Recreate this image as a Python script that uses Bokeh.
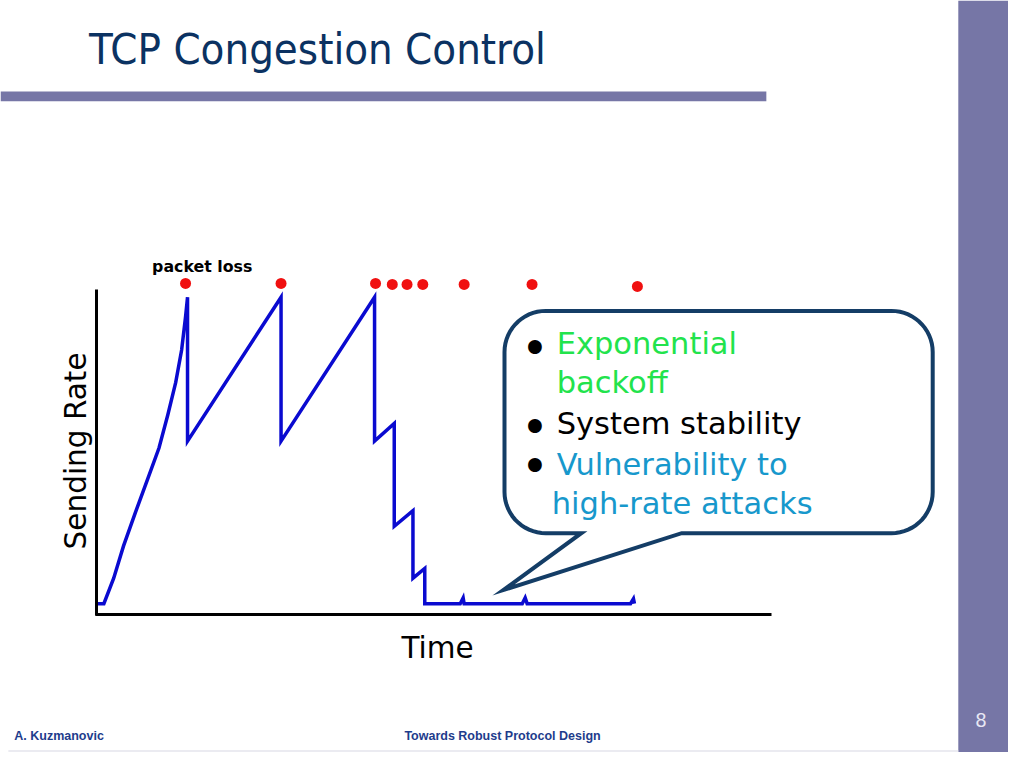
import numpy as np
from bokeh.plotting import figure
from bokeh.models import Range1d, LinearAxis, FixedTicker
from bokeh.core.properties import value
from bokeh.embed import file_html
from bokeh.resources import INLINE

# ---------------- data ----------------
title_text = "TCP Congestion Control"
x_label = "Time"
y_label = "Sending Rate"
loss_label = "packet loss"
footer_left = "A. Kuzmanovic"
footer_center = "Towards Robust Protocol Design"
page_number = "8"
callout_lines = ["Exponential", "backoff", "System stability",
                 "Vulnerability to", "high-rate attacks"]

# sending-rate curve (time, rate) in arbitrary units
time = [0.1, 0.7, 1.7, 2.7, 3.9, 5.1, 6.3, 7.2, 8.0, 8.6, 9.0, 9.2, 9.2,
        18.7, 18.7, 28.2, 28.2, 30.2, 30.2, 32.1, 32.1, 33.3, 33.3,
        36.9, 37.2, 37.3, 43.2, 43.5, 43.7, 54.2, 54.5, 54.6]
rate = [1.1, 1.1, 3.7, 7.0, 10.4, 13.7, 17.0, 20.4, 23.7, 27.0, 30.4, 32.4, 17.7,
        32.4, 17.7, 32.4, 17.7, 19.5, 9.0, 10.6, 3.7, 4.7, 1.1,
        1.1, 1.7, 1.1, 1.1, 1.7, 1.1, 1.1, 1.6, 1.1]

# packet loss events
loss_time = [9.0, 18.7, 28.3, 30.0, 31.5, 33.1, 37.3, 44.2, 54.9]
loss_rate = [33.8, 33.8, 33.8, 33.7, 33.7, 33.7, 33.7, 33.7, 33.5]

time_max = 68.5
rate_max = 33.2

# ---------------- styles ----------------
BAR = "#7676A6"
NAVY = "#0B3262"
BUBBLE = "#143D66"
GREEN = "#22E34C"
CYAN = "#1798CC"
CURVE = "#0A0AD0"
RED = "#F01010"

W, H = 1008, 752
K = W / 1024.0                 # slide (1024x768) to canvas scale


def fs(px):
    return "%.1fpx" % (px * K)


def mid(baseline, size):
    # vertical centre of a text line from its baseline
    return baseline - 0.37 * size


p = figure(width=W, height=H,
           x_range=Range1d(-9.8, 92.6), y_range=Range1d(-14.1, 62.7),
           output_backend="svg", toolbar_location=None, tools="",
           x_axis_location=None, y_axis_location=None,
           min_border=0, outline_line_color=None)
p.background_fill_color = "white"
p.border_fill_color = "white"
p.xgrid.visible = False
p.ygrid.visible = False
p.grid.visible = False

# slide-pixel coordinate system for slide decorations
p.extra_x_ranges = {"px": Range1d(0, 1024)}
p.extra_y_ranges = {"px": Range1d(768, 0)}
PX = dict(x_range_name="px", y_range_name="px")

# slide bars
p.quad(left=[973], right=[1024], top=[0], bottom=[768], color=BAR, line_color=None, **PX)
p.quad(left=[0], right=[778], top=[93], bottom=[103], color=BAR, line_color=None, **PX)
p.line([8, 973], [766.5, 766.5], line_color="#E4E4EC", line_width=1.5, **PX)

# title
p.text(x=[90], y=[mid(66, 44)], text=[title_text], text_font=value("DejaVu Sans Condensed"),
       text_font_size=fs(44), text_color=NAVY, text_baseline="middle", **PX)

# axes
xaxis = LinearAxis(fixed_location=0, bounds=(-0.15, time_max), ticker=FixedTicker(ticks=[]),
                   axis_line_width=3, axis_line_color="black",
                   major_tick_line_color=None, minor_tick_line_color=None,
                   major_label_text_color=None)
yaxis = LinearAxis(fixed_location=0, bounds=(-0.15, rate_max), ticker=FixedTicker(ticks=[]),
                   axis_line_width=3, axis_line_color="black",
                   major_tick_line_color=None, minor_tick_line_color=None,
                   major_label_text_color=None)
p.add_layout(xaxis, "below")
p.add_layout(yaxis, "left")

# curve and loss markers
p.line(time, rate, line_width=3.5, line_color=CURVE, line_join="miter")
p.scatter(loss_time, loss_rate, size=11, color=RED, line_color=None)

# axis titles
p.text(x=[444], y=[mid(672, 30)], text=[x_label], text_font=value("DejaVu Sans"),
       text_font_size=fs(30), text_color="black", text_align="center",
       text_baseline="middle", **PX)
p.text(x=[mid(88, 30)], y=[460], text=[y_label], angle=np.pi / 2, text_font=value("DejaVu Sans"),
       text_font_size=fs(30), text_color="black", text_align="center",
       text_baseline="middle", **PX)
p.text(x=[154], y=[mid(278, 16)], text=[loss_label], text_font=value("DejaVu Sans"),
       text_font_style="bold", text_font_size=fs(16), text_color="black",
       text_baseline="middle", **PX)

# callout bubble (rounded rectangle with tail)
L, R, T, B, rad = 512, 947, 317, 544, 42


def arc(cx, cy, a0, a1):
    a = np.radians(np.linspace(a0, a1, 16))
    return list(cx + rad * np.cos(a)), list(cy + rad * np.sin(a))


bx, by = [], []
for (cx, cy, a0, a1) in [(R - rad, T + rad, -90, 0), (R - rad, B - rad, 0, 90)]:
    ax_, ay_ = arc(cx, cy, a0, a1)
    bx += ax_
    by += ay_
bx += [692, 511, 590]
by += [B, 602, B]
for (cx, cy, a0, a1) in [(L + rad, B - rad, 90, 180), (L + rad, T + rad, 180, 270)]:
    ax_, ay_ = arc(cx, cy, a0, a1)
    bx += ax_
    by += ay_
p.patch(bx, by, fill_color="white", line_color=BUBBLE, line_width=4, line_join="miter", **PX)

# callout text
line_x = [565, 565, 565, 565, 560]
line_base = [362, 402, 443, 485, 525]
line_colors = [GREEN, GREEN, "black", CYAN, CYAN]
p.text(x=line_x, y=[mid(b, 31) for b in line_base], text=callout_lines, text_color=line_colors,
       text_font=value("DejaVu Sans"), text_font_size=fs(31),
       text_baseline="middle", **PX)
p.text(x=[543, 543, 543], y=[c + 3 for c in (352, 433, 473)], text=["\u2022"] * 3,
       text_color="black", text_font=value("DejaVu Sans"), text_font_size=fs(48),
       text_align="center", text_baseline="middle", **PX)

# footer
p.text(x=[14], y=[mid(756, 12.7)], text=[footer_left], text_font=value("Liberation Sans"),
       text_font_style="bold", text_font_size=fs(12.7), text_color="#1E3C8C",
       text_baseline="middle", **PX)
p.text(x=[510], y=[mid(756, 12.7)], text=[footer_center], text_font=value("Liberation Sans"),
       text_font_style="bold", text_font_size=fs(12.7), text_color="#1E3C8C",
       text_align="center", text_baseline="middle", **PX)
p.text(x=[996], y=[mid(742, 20)], text=[page_number], text_font=value("Liberation Sans"),
       text_font_size=fs(20), text_color="#E8E8F4", text_align="center",
       text_baseline="middle", **PX)

open("out.html", "w").write(file_html(p, INLINE))
